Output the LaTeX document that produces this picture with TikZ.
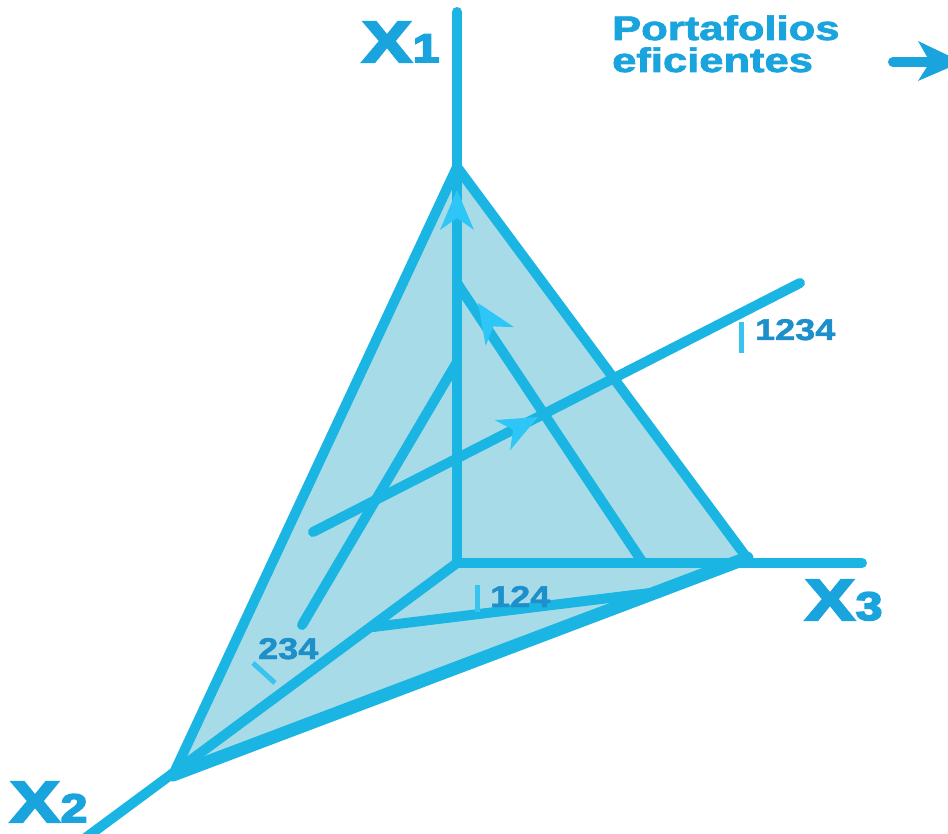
\documentclass[tikz,border=0pt]{standalone}
\usepackage{fontspec}
\usepackage{graphicx}
\setmainfont{Liberation Sans}
\newfontfamily\heavyfont[BoldFeatures={FakeBold=4}]{Liberation Sans}
\newfontfamily\semifont[BoldFeatures={FakeBold=1.5}]{Liberation Sans}
\newfontfamily\legfont[BoldFeatures={FakeBold=2}]{Liberation Sans}
\definecolor{linec}{HTML}{1BB5E4}
\definecolor{fillc}{HTML}{A7DBE8}
\definecolor{arrc}{HTML}{2EC6F6}
\definecolor{labc}{HTML}{1D8FCB}
\definecolor{xc}{HTML}{19A4DD}
\definecolor{tickc}{HTML}{38C4EE}
\tikzset{
  edge/.style={draw=linec, line width=10pt, line cap=round, line join=round},
  thickedge/.style={draw=linec, line width=13pt, line cap=round, line join=round},
  tipfill/.style={fill=arrc},
  xlab/.style={anchor=base west, inner sep=0pt, text=xc, font=\heavyfont\bfseries},
  numlab/.style={anchor=base west, inner sep=0pt, text=labc, font=\semifont\bfseries},
  leglab/.style={anchor=base west, inner sep=0pt, text=xc, font=\legfont\bfseries},
  ticks/.style={draw=tickc, line width=5pt}
}
\begin{document}
\begin{tikzpicture}[x=1pt,y=-1pt]
\useasboundingbox (0,0) rectangle (948,834);
% vertices
\coordinate (O) at (457,563);
\coordinate (A) at (457,167);
\coordinate (B) at (747,558);
\coordinate (C) at (173,775);
\coordinate (X1e) at (457,12);
\coordinate (X3e) at (862,563);
\coordinate (X2e) at (80,842);
\coordinate (P) at (373,627);
\coordinate (Q) at (650,593);
\coordinate (F1) at (457,283);
\coordinate (F2) at (643,563);
\coordinate (G1) at (302,625);
\coordinate (G2) at (457,362);
\coordinate (H1) at (313,532);
\coordinate (H2) at (800,283);
% shaded simplex
\fill[fillc] (A) -- (C) -- (B) -- cycle;
% axes
\draw[edge] (O) -- (X1e);
\draw[edge] (O) -- (X3e);
\draw[edge] (O) -- (X2e);
% edges
\draw[edge] (A) -- (C);
\draw[edge] (A) -- (B);
\draw[thickedge] (C) -- (B);
% frontiers
\draw[edge] (P) -- (Q);
\draw[edge] (F1) -- (F2);
\draw[edge] (G1) -- (G2);
\draw[edge] (H1) -- (H2);
% arrow marks
\fill[tipfill] (457,190) -- (474,230) -- (457,218) -- (440,230) -- cycle;
\fill[tipfill] (478,303) -- (514.1,327.2) -- (493.3,326.4) -- (485.7,345.8) -- cycle;
\fill[tipfill] (538,417) -- (510.1,450.3) -- (513.1,429.7) -- (494.7,420.1) -- cycle;
% ticks and labels
\draw[ticks] (741,322) -- (741,353);
\draw[ticks] (477,585) -- (477,612);
\draw[ticks] (253,663) -- (275,683);
\node[numlab] (l1234) at (755,340) {\scalebox{1.2}[1]{\fontsize{30}{30}\selectfont 1234}};
\node[numlab] (l124) at (490,607) {\scalebox{1.2}[1]{\fontsize{30}{30}\selectfont 124}};
\node[numlab] (l234) at (258,659) {\scalebox{1.2}[1]{\fontsize{30}{30}\selectfont 234}};
% axis labels
\node[xlab] (x1) at (362,62) {\scalebox{1.28}[1]{\fontsize{58}{58}\selectfont X}\kern1pt\scalebox{1.2}[1]{\fontsize{40}{40}\selectfont 1}};
\node[xlab] (x2) at (10,822) {\scalebox{1.28}[1]{\fontsize{58}{58}\selectfont X}\kern1pt\scalebox{1.2}[1]{\fontsize{40}{40}\selectfont 2}};
\node[xlab] (x3) at (805,620) {\scalebox{1.28}[1]{\fontsize{58}{58}\selectfont X}\kern1pt\scalebox{1.2}[1]{\fontsize{40}{40}\selectfont 3}};
% legend
\node[leglab] (p1) at (612,40) {\scalebox{1.28}[1]{\fontsize{34}{34}\selectfont Portafolios}};
\node[leglab] (p2) at (612,72) {\scalebox{1.28}[1]{\fontsize{34}{34}\selectfont eficientes}};
\coordinate (La) at (893,62);
\coordinate (Lb) at (928,62);
\draw[draw=xc, line width=10pt, line cap=round] (La) -- (Lb);
\fill[xc] (962,62) -- (918,41) -- (930,62) -- (918,81) -- cycle;
\end{tikzpicture}
\end{document}
